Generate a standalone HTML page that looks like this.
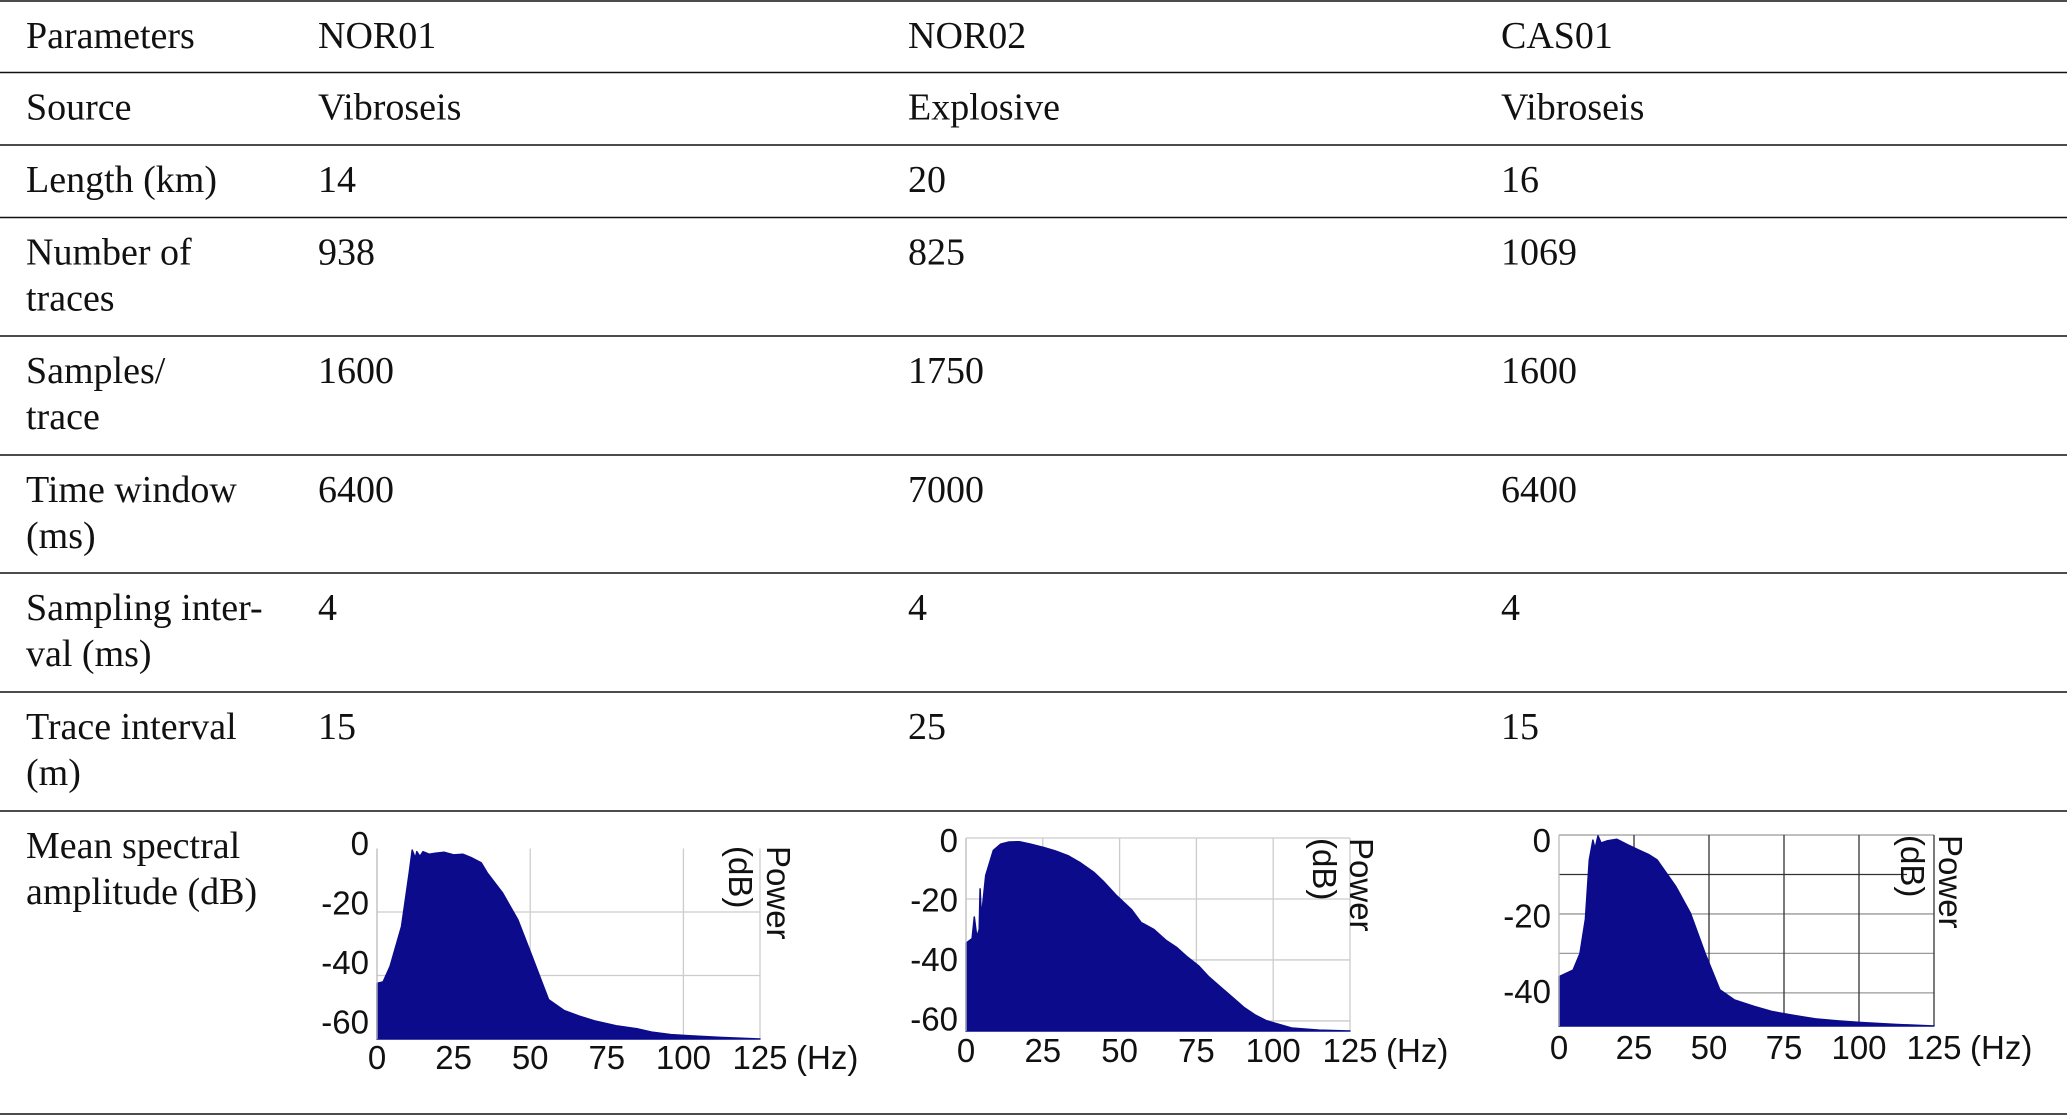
<!DOCTYPE html>
<html><head><meta charset="utf-8"><style>
html,body{margin:0;padding:0;background:#fff;}
svg{display:block;}
.t{font-family:"Liberation Serif",serif;font-size:38px;fill:#111;}
.a{font-family:"Liberation Sans",sans-serif;font-size:33px;fill:#111;}
</style></head><body>
<svg id="s" width="2067" height="1117" viewBox="0 0 2067 1117" xmlns="http://www.w3.org/2000/svg">
<g id="table"></g>
<g id="charts"></g>
</svg>
<script>
var NS="http://www.w3.org/2000/svg";
var rowLines=[1,72.5,145,217.5,336,455,573,692,811,1114];
var colX=[26,318,908,1501];
var rows=[
 [["Parameters"],["NOR01"],["NOR02"],["CAS01"]],
 [["Source"],["Vibroseis"],["Explosive"],["Vibroseis"]],
 [["Length (km)"],["14"],["20"],["16"]],
 [["Number of","traces"],["938"],["825"],["1069"]],
 [["Samples/","trace"],["1600"],["1750"],["1600"]],
 [["Time window","(ms)"],["6400"],["7000"],["6400"]],
 [["Sampling inter-","val (ms)"],["4"],["4"],["4"]],
 [["Trace interval","(m)"],["15"],["25"],["15"]],
 [["Mean spectral","amplitude (dB)"],[],[],[]]
];
function mk(tag,attrs,parent){var e=document.createElementNS(NS,tag);for(var k in attrs)e.setAttribute(k,attrs[k]);parent.appendChild(e);return e;}
var tb=document.getElementById('table');
rowLines.forEach(function(y,i){
 var l=mk('line',{x1:0,x2:2067,y1:y,y2:y,stroke:'#111','stroke-width':1.6},tb);
 
 
});
rows.forEach(function(r,ri){
 r.forEach(function(cell,ci){
  cell.forEach(function(line,li){
   var t=mk('text',{x:colX[ci],y:rowLines[ri]+47+li*46,'class':'t'},tb);
   t.textContent=line;
   
   
  });
 });
});

// chart data (Hz, dB)
var freqs1=[0,2,4.3,8,10.5,11.5,12.5,13,14,15,17,19,22,25,28,31,34,36,41,46,51,56,61,66,71,78,85,90,96,102,112,125];
var db1=[-42.5,-42,-37,-24.6,-7.7,-0.5,-3,-1,-2.5,-1,-1.8,-1.5,-1.2,-2,-1.8,-3,-4.5,-7.7,-14,-22.5,-35,-47.6,-51,-52.8,-54.3,-55.8,-56.8,-57.9,-58.6,-59,-59.5,-60];
var freqs2=[0,2,2.7,3.5,4.3,4.6,5,6.4,8.9,11.3,14,17.4,21,25.3,29,33.2,37,41.7,45,49,53.9,57,61.2,65,68.5,72,75.8,79,83,87,90.4,94,97.7,106,115,125];
var db2=[-34.5,-33,-25.9,-32.4,-30,-16.7,-26,-12.3,-4.1,-2,-1.3,-1.2,-2,-3.1,-4.2,-5.8,-8,-11.3,-14.5,-18.9,-23.5,-27.7,-30,-33.5,-35.8,-39,-42,-45.5,-49,-52.5,-55.5,-58,-59.9,-62.3,-63,-63.3];
var freqs3=[0,4.7,7,8.8,10.1,11.3,12,13,14,16,19.3,23,26.6,30,32.7,38.9,43.8,48.7,53.6,58.5,65,70.8,78,85.5,93,100,112,125];
var db3=[-35.9,-34.2,-30,-21.3,-6.3,-1.3,-3.5,-0.2,-2,-1.5,-1.1,-2.5,-3.8,-5,-6.3,-13,-19.8,-30,-39.2,-41.8,-43.4,-44.7,-45.7,-46.6,-47.1,-47.5,-48,-48.4];
var xTicks=[0,25,50,75,100,125];
var yTicks1=[0,-20,-40,-60];
var yTicks2=[0,-20,-40,-60];
var yTicks3=[0,-20,-40];

var charts=[
 {id:'nor01',f:freqs1,d:db1,yt:yTicks1,x0:377,x1:760,yTop:848.5,yBot:1039,dMin:-60,vg:[50,100,125],hg:[-20,-40],vcol:'#ccc',hcol:'#ccc',labTop:843,labStep:59.5,labRight:369,xLabY:1069,pX:767,dbX:729,pY:846},
 {id:'nor02',f:freqs2,d:db2,yt:yTicks2,x0:966,x1:1350,yTop:838,yBot:1031,dMin:-63.3,vg:[25,50,75,100,125],hg:[0,-20,-40,-60],vcol:'#ccc',hcol:'#ccc',labTop:840,labStep:59.5,labRight:958,xLabY:1062,pX:1350,dbX:1313,pY:838},
 {id:'cas01',f:freqs3,d:db3,yt:yTicks3,x0:1559,x1:1934,yTop:835,yBot:1026,dMin:-48.4,vg:[25,50,75,100,125],hg:[0,-10,-20,-30,-40],vcol:'#333',hcol:'#999',labTop:840,labStep:75.5,labRight:1551,xLabY:1059,pX:1939,dbX:1901,pY:835}
];
var cg=document.getElementById('charts');
charts.forEach(function(c){
 var g=mk('g',{},cg);
 
 
 function X(v){return c.x0+(v/125)*(c.x1-c.x0);}
 function Y(v){return c.yTop+(v/c.dMin)*(c.yBot-c.yTop);}
 c.hg.forEach(function(v){
  var xe=c.x1; if(c.id==='cas01'&&v===-10) xe=X(116);
  var l=mk('line',{x1:c.x0,x2:xe,y1:Y(v),y2:Y(v),stroke:(c.id==='cas01'&&v===-10)?'#333':c.hcol,'stroke-width':1.3},g);
  
  
 });
 c.vg.forEach(function(v){
  var l=mk('line',{x1:X(v),x2:X(v),y1:c.yTop,y2:c.yBot,stroke:c.vcol,'stroke-width':1.3},g);
  
  
 });
 var p='M'+X(0)+','+Y(c.dMin);
 c.f.forEach(function(f,i){p+=' L'+X(f).toFixed(1)+','+Y(c.d[i]).toFixed(1);});
 p+=' L'+X(125)+','+Y(c.dMin)+' Z';
 var a=mk('path',{d:p,fill:'#0b0b8c',stroke:'#0b0b8c','stroke-width':1.5,'stroke-linejoin':'round'},g);
 
 
 var ax=mk('line',{x1:c.x0,x2:c.x0,y1:c.yTop,y2:c.yBot,stroke:'#bbb','stroke-width':1.3},g);
 
 
 c.yt.forEach(function(v,i){
  var t=mk('text',{x:c.labRight,y:c.labTop+i*c.labStep+12,'class':'a','text-anchor':'end'},g);
  t.textContent=String(v);
  
  
 });
 xTicks.forEach(function(v){
  var t=mk('text',{x:X(v),y:c.xLabY,'class':'a','text-anchor':'middle'},g);
  t.textContent=String(v);
  
  
 });
 var hz=mk('text',{x:X(125)+36,y:c.xLabY,'class':'a'},g);
 hz.textContent='(Hz)';
 
 
 var pw=mk('text',{transform:'translate('+c.pX+','+c.pY+') rotate(90)','class':'a'},g);
 pw.textContent='Power';
 
 
 var db=mk('text',{transform:'translate('+c.dbX+','+c.pY+') rotate(90)','class':'a'},g);
 db.textContent='(dB)';
 
 
});
</script>
</body></html>
